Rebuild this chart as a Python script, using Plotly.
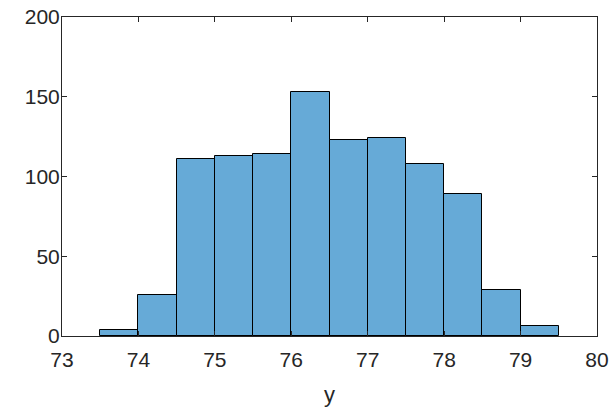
import plotly.graph_objects as go

bin_edges = [73.5, 74.0, 74.5, 75.0, 75.5, 76.0, 76.5, 77.0, 77.5, 78.0, 78.5, 79.0, 79.5]
counts = [4, 26, 111, 113, 114, 153, 123, 124, 108, 89, 29, 6]
x_ticks = [73, 74, 75, 76, 77, 78, 79, 80]
y_ticks = [0, 50, 100, 150, 200]

centers = [(a + b) / 2 for a, b in zip(bin_edges[:-1], bin_edges[1:])]
widths = [b - a for a, b in zip(bin_edges[:-1], bin_edges[1:])]

fig = go.Figure(go.Bar(
    x=centers, y=counts, width=widths,
    marker=dict(color="#66AAD7", line=dict(color="#000000", width=1)),
))

axis_common = dict(
    showline=True, linecolor="#262626", linewidth=1, mirror="ticks",
    ticks="inside", ticklen=5, tickcolor="#262626", showgrid=False, zeroline=False,
    automargin=False,
    tickfont=dict(family="Liberation Sans, Arial, sans-serif", size=21, color="#262626"),
)

fig.update_layout(
    width=609, height=410,
    margin=dict(l=62, r=12, t=17, b=74),
    paper_bgcolor="white", plot_bgcolor="white",
    bargap=0, showlegend=False,
    xaxis=dict(range=[73, 80], tickvals=x_ticks, ticklabelstandoff=5, **axis_common),
    yaxis=dict(range=[0, 200], tickvals=y_ticks, ticklabelstandoff=-3, **axis_common),
    annotations=[dict(text="y", xref="paper", yref="paper", x=0.5, y=0,
                      yshift=-44, yanchor="top", showarrow=False,
                      font=dict(family="Liberation Sans, Arial, sans-serif", size=22, color="#262626"))],
)

fig.write_html("out.html")
